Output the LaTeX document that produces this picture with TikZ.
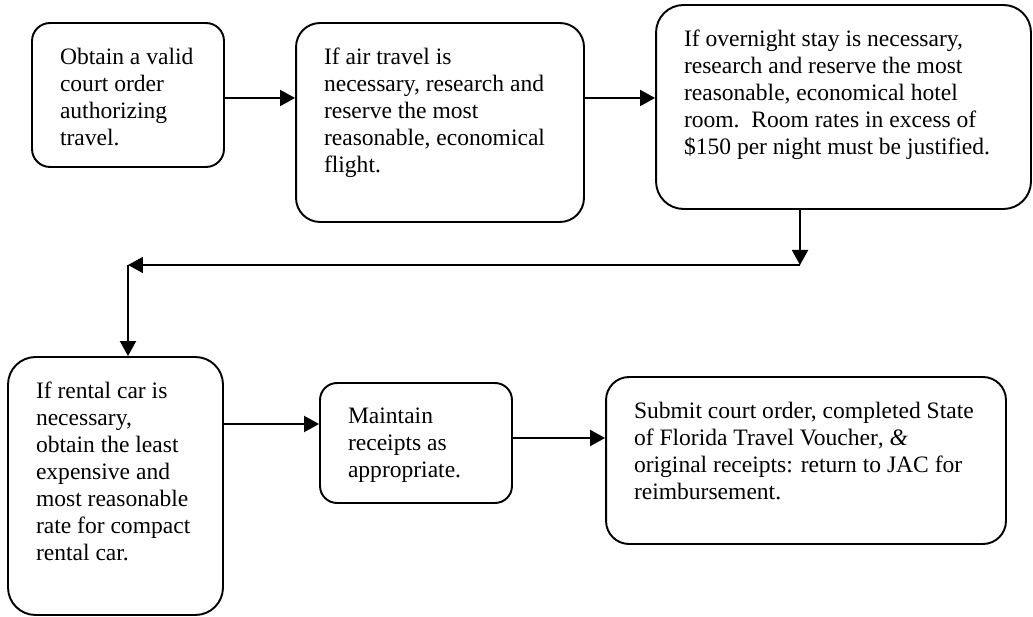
\documentclass[tikz,border=0pt]{standalone}
\usepackage{fontspec}
\setmainfont{Liberation Serif}
\usetikzlibrary{arrows.meta}

\tikzset{
    stepbox/.style={draw, line width=1.1pt, rounded corners=#1,
        inner xsep=0.56cm, inner ysep=0.5cm,
        font=\fontsize{13.4}{15.4}\selectfont},
    stepbox/.default=0.45cm,
    flow/.style={line width=1.1pt, -{Triangle[length=0.3cm, width=0.32cm]}}
}
\newcommand{\steptext}[3]{\parbox[c][#2][t]{#1}{\raggedright #3}}

\begin{document}
\begin{tikzpicture}[x=0.02cm, y=-0.02cm]
    \useasboundingbox (0,0) rectangle (1033,617);

    % top row
    \node (b1) at (128,95) [stepbox=0.36cm]
        {\steptext{2.72cm}{1.88cm}{Obtain a valid\\court order\\authorizing\\travel.}};
    \node (b2) at (440,122.5) [stepbox=0.48cm]
        {\steptext{4.64cm}{2.98cm}{If air travel is\\necessary, research and\\reserve the most\\reasonable, economical\\flight.}};
    \node (b3) at (843.5,107) [stepbox=0.55cm]
        {\steptext{6.38cm}{3.08cm}{If overnight stay is necessary,\\research and reserve the most\\reasonable, economical hotel\\room.\ \ Room rates in excess of\\\$150 per night must be justified.}};

    % bottom row
    \node (b4) at (115.5,486) [stepbox=0.55cm]
        {\steptext{3.18cm}{4.16cm}{If rental car is\\necessary,\\obtain the least\\expensive and\\most reasonable\\rate for compact\\rental car.}};
    \node (b5) at (416,443) [stepbox=0.34cm]
        {\steptext{2.72cm}{1.4cm}{Maintain\\receipts as\\appropriate.}};
    \node (b6) at (806,460.5) [stepbox=0.46cm]
        {\steptext{6.88cm}{2.34cm}{Submit court order, completed State\\of Florida Travel Voucher\textit{, \&}\\original receipts: return to JAC for\\reimbursement.}};

    \coordinate (row1) at (0,98);
    \coordinate (row2) at (0,424);
    \coordinate (row3) at (0,438);
    \coordinate (turn) at (800,265);
    \coordinate (corner) at (128,265);

    \draw[flow] (b1.east |- row1) -- (b2.west |- row1);
    \draw[flow] (b2.east |- row1) -- (b3.west |- row1);
    \draw[flow] (b3.south -| turn) -- (turn);
    \draw[flow] (turn) -- (corner);
    \draw[flow] (corner) -- (corner |- b4.north);
    \draw[flow] (b4.east |- row2) -- (b5.west |- row2);
    \draw[flow] (b5.east |- row3) -- (b6.west |- row3);
\end{tikzpicture}
\end{document}
